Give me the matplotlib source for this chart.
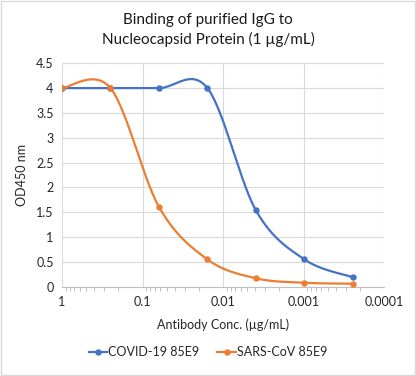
import numpy as np
import matplotlib
matplotlib.use("Agg")
import matplotlib.pyplot as plt
from matplotlib.lines import Line2D

plt.rcParams['font.family'] = ['Lato', 'DejaVu Sans']

# 4-fold dilution series (ug/mL)
conc = [1, 0.25, 0.0625, 0.015625, 0.00390625, 0.0009765625, 0.000244140625]
covid_od = [4.0, 4.0, 4.0, 4.0, 1.54, 0.55, 0.19]
sars_od = [4.0, 4.0, 1.61, 0.55, 0.17, 0.08, 0.06]

series_names = ["COVID-19 85E9", "SARS-CoV 85E9"]
colors = ["#4472C4", "#ED7D31"]


def smooth(xs, ys, n=60):
    """Excel-like smoothed line: cubic Bezier through points (log x)."""
    u = np.log10(np.asarray(xs, float))
    v = np.asarray(ys, float)
    pts = np.column_stack([u, v])
    out = []
    for i in range(len(pts) - 1):
        p0 = pts[max(i - 1, 0)]
        p1 = pts[i]
        p2 = pts[i + 1]
        p3 = pts[min(i + 2, len(pts) - 1)]
        c1 = p1 + (p2 - p0) / 6
        c2 = p2 - (p3 - p1) / 6
        t = np.linspace(0, 1, n)[:, None]
        seg = ((1 - t) ** 3 * p1 + 3 * (1 - t) ** 2 * t * c1
               + 3 * (1 - t) * t ** 2 * c2 + t ** 3 * p2)
        out.append(seg)
    out = np.vstack(out)
    return 10 ** out[:, 0], out[:, 1]


fig = plt.figure(figsize=(4.16, 3.76), dpi=100)
ax = fig.add_axes([62 / 416, 1 - 286.7 / 376, (384 - 62) / 416, (286.7 - 63.3) / 376])

for ys, col in zip([covid_od, sars_od], colors):
    sx, sy = smooth(conc, ys)
    ax.plot(sx, sy, color=col, lw=1.6, zorder=3)
    ax.plot(conc, ys, 'o', color=col, ms=3.6, zorder=4)

ax.set_xscale('log')
ax.set_xlim(1, 0.0001)
ax.set_ylim(0, 4.5)
ax.set_yticks(np.arange(0, 4.51, 0.5))
ax.set_yticklabels(['0', '0.5', '1', '1.5', '2', '2.5', '3', '3.5', '4', '4.5'])
ax.set_xticks([1, 0.1, 0.01, 0.001, 0.0001])
ax.set_xticklabels(['1', '0.1', '0.01', '0.001', '0.0001'])

ax.grid(True, which='major', color='#d9d9d9', lw=0.8, zorder=0)
ax.set_axisbelow(True)
for s in ['top', 'right', 'left']:
    ax.spines[s].set_visible(False)
ax.spines['bottom'].set_color('#bfbfbf')
ax.spines['bottom'].set_linewidth(0.8)
ax.tick_params(axis='y', length=0, labelsize=9, colors='#262626', pad=6)
ax.tick_params(axis='x', which='major', length=0, labelsize=9, colors='#262626', pad=7)
ax.tick_params(axis='x', which='minor', length=3, color='#bfbfbf', width=0.7)

ax.set_ylabel('OD450 nm', fontsize=9, color='#262626', labelpad=6)
ax.set_xlabel('Antibody Conc. (\u00b5g/mL)', fontsize=9, color='#262626', labelpad=7)

fig.text(0.5, 1 - 30 / 376, 'Binding of purified IgG to\nNucleocapsid Protein (1 \u00b5g/mL)',
         ha='center', va='center', fontsize=11, color='#1a1a1a', linespacing=1.45)

handles = [Line2D([], [], color=c, lw=1.6, marker='o', ms=3.6) for c in colors]
fig.legend(handles, series_names, loc='center', bbox_to_anchor=(0.5, 1 - 352 / 376),
           ncol=2, frameon=False, fontsize=9, handlelength=1.5, handletextpad=0.1,
           columnspacing=1.4, labelcolor='#262626')

# chart border
fig.patches.append(plt.Rectangle((0.002, 0.002), 0.996, 0.996, transform=fig.transFigure,
                                 fill=False, edgecolor='#d9d9d9', lw=1))

fig.savefig('out.png', dpi=100)
